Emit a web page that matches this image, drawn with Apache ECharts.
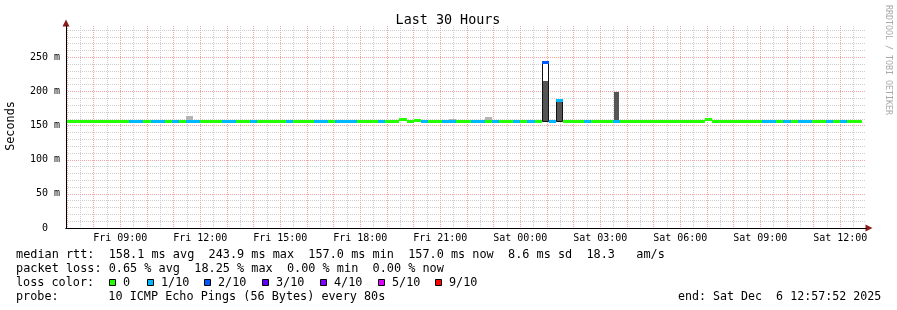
<!DOCTYPE html>
<html><head><meta charset="utf-8">
<script src="https://cdn.jsdelivr.net/npm/echarts@6/dist/echarts.min.js"></script>
<style>html,body{margin:0;padding:0;background:#fff}#c{width:897px;height:310px}</style>
</head><body><div id="c"></div>
<script>
// ---- time axis: minutes since Fri 00:00 ----
const viewStart = 417 + 52 / 60;          // Fri 06:57:52
const viewEnd = viewStart + 1800;         // Sat 12:57:52 (30 hours)
const binStart0 = 416;                    // first 16-minute RRD bin (Fri 06:56)
const binStep = 16;

// x tick labels
const xTickValues = [540, 720, 900, 1080, 1260, 1440, 1620, 1800, 1980, 2160];
const xTickLabels = ['Fri 09:00', 'Fri 12:00', 'Fri 15:00', 'Fri 18:00', 'Fri 21:00',
                     'Sat 00:00', 'Sat 03:00', 'Sat 06:00', 'Sat 09:00', 'Sat 12:00'];
// y tick labels (ms)
const yTickValues = [0, 50, 100, 150, 200, 250];
const yTickLabels = ['0  ', '50 m', '100 m', '150 m', '200 m', '250 m'];

// median rtt per bin (ms)
const medianMs = [
  157,157,157,157,157,157,157,157,157,157,
  157,157,157,157,157,157,157,157,157,157,
  157,157,157,157,157,157,157,157,157,157,
  157,157,157,157,157,157,157,157,157,157,
  157,157,157,157,157,157,157,160,157,158,
  157,157,157,157,157,157,157,157,157,157,
  157,157,157,157,157,157,157,243.9,157,187,
  157,157,157,157,157,157,157,157,157,157,
  157,157,157,157,157,157,157,157,157,157,
  160,157,157,157,157,157,157,157,157,157,
  157,157,157,157,157,157,157,157,157,157,
  157,157
];
// packet loss per bin (%)
const lossPct = [
  0,0,0,0,0,0,0,0,0,1.67,
  0.83,0,1.67,1.67,0,1.67,0,2.5,1.67,0,
  0,0,1.67,0.83,0,0,1.67,0,0,0,
  0,1.67,0,0,0,1.67,0.83,0,1.67,2.5,
  1.67,0,0,0,1.67,0,0,0,0,0,
  1.67,0,0,0.83,1.67,0,0,1.67,1.67,0,
  1.67,0,0,1.67,0,1.67,0,18.25,1.67,2.5,
  0,0,0,1.67,0,0,0,1.67,0,0,
  0,0,0,0,0,0,0,0,0,0,
  0,0,0,0,0,0,0,0,1.67,0.83,
  0,1.67,0,1.67,0.83,0,0,1.67,0,1.67,
  0,0
];
// smoke (ping spread) per bin
const smokeBase = 157;
const lightSmokeStart = [688, 1280, 1360];
const lightSmokeTop = [164, 160, 163];
const darkSmokeStart = [1488, 1520, 1648];
const darkSmokeTop = [215, 186, 200];
const envelopeStart = [1488, 1520];
const envelopeTop = [244, 188];

// loss colour classes
const lossLabels = ['0', '1/10', '2/10', '3/10', '4/10', '5/10', '9/10'];
const lossColors = ['#26ff00', '#00b8ff', '#0059ff', '#5e00ff', '#7e00ff', '#dd00ff', '#ff0000'];
const lossUpper = [0, 10, 20, 30, 40, 50, 100];

// legend texts
const legendRtt = 'median rtt:  158.1 ms avg  243.9 ms max  157.0 ms min  157.0 ms now  8.6 ms sd  18.3   am/s';
const legendLoss = 'packet loss: 0.65 % avg  18.25 % max  0.00 % min  0.00 % now';
const legendColorTitle = 'loss color:';
const legendProbe = 'probe:       10 ICMP Echo Pings (56 Bytes) every 80s';
const legendEnd = 'end: Sat Dec  6 12:57:52 2025';
const titleText = 'Last 30 Hours';

// ---------------------------------------------------------------
const MONO = '"DejaVu Sans Mono", "Liberation Mono", monospace';
function lossColor(p) {
  for (let i = 0; i < lossUpper.length; i++) if (p <= lossUpper[i]) return lossColors[i];
  return lossColors[lossColors.length - 1];
}
const medianData = medianMs.map((m, j) => [binStart0 + j * binStep, binStart0 + (j + 1) * binStep, m, lossPct[j]]);
const smokeData = [];
envelopeStart.forEach((t, i) => smokeData.push([t, t + binStep, smokeBase, envelopeTop[i], 0]));
lightSmokeStart.forEach((t, i) => smokeData.push([t, t + binStep, smokeBase, lightSmokeTop[i], 1]));
darkSmokeStart.forEach((t, i) => smokeData.push([t, t + binStep, smokeBase, darkSmokeTop[i], 2]));

const hourTicks = [], halfTicks = [];
for (let t = Math.ceil(viewStart / 60) * 60; t <= viewEnd; t += 60) hourTicks.push(t);
for (let t = Math.ceil((viewStart - 30) / 60) * 60 + 30; t <= viewEnd; t += 60) halfTicks.push(t);
const yMinor = [];
for (let v = 10; v < 296; v += 10) if (v % 50) yMinor.push(v);

function xSpan(api, t0, t1, v) {
  const a = api.coord([Math.max(t0, viewStart), v]);
  const b = api.coord([Math.min(t1, viewEnd), v]);
  return [Math.round(a[0]), Math.round(b[0]), a[1]];
}

const hidden = { axisLine: { show: false }, axisLabel: { show: false } };
const common = { type: 'value', min: viewStart, max: viewEnd, position: 'bottom' };
const ycommon = { type: 'value', min: 0, max: 296, position: 'left' };

const chart = echarts.init(document.getElementById('c'), null, { renderer: 'canvas' });
chart.setOption({
  animation: false,
  backgroundColor: '#ffffff',
  grid: { left: 66, top: 26, width: 800, height: 202 },
  xAxis: [
    Object.assign({}, common, {
      axisLine: { show: false },
      axisTick: { show: false, customValues: hourTicks },
      splitLine: { show: true, lineStyle: { color: '#f3a3a3', type: [1, 1], width: 1 } },
      axisLabel: { customValues: xTickValues, margin: 5, fontFamily: MONO, fontSize: 10, color: '#000',
        formatter: v => xTickLabels[xTickValues.indexOf(Math.round(v))] || '' },
      z: 1
    }),
    Object.assign({}, common, hidden, {
      axisTick: { show: false, customValues: halfTicks },
      splitLine: { show: true, lineStyle: { color: '#cfcfcf', type: [1, 1], width: 1 } },
      z: 0
    }),
    Object.assign({}, common, {
      axisLine: { show: true, onZero: false, symbol: ['none', 'triangle'], symbolSize: [7, 7], symbolOffset: [0, 3],
        lineStyle: { color: '#8b1c1c', width: 1 } },
      axisTick: { show: false }, axisLabel: { show: false }, splitLine: { show: false }, z: 5
    }),
    Object.assign({}, common, {
      axisLine: { show: true, onZero: false, lineStyle: { color: '#000', width: 1 } },
      axisTick: { show: false }, axisLabel: { show: false }, splitLine: { show: false }, z: 6
    })
  ],
  yAxis: [
    Object.assign({}, ycommon, {
      axisLine: { show: false },
      axisTick: { show: false, customValues: yTickValues },
      splitLine: { show: true, lineStyle: { color: '#f3a3a3', type: [1, 1], width: 1 } },
      axisLabel: { customValues: yTickValues, margin: 6, fontFamily: MONO, fontSize: 10, color: '#000',
        formatter: v => yTickLabels[yTickValues.indexOf(Math.round(v))] || '' },
      z: 1
    }),
    Object.assign({}, ycommon, hidden, {
      axisTick: { show: false, customValues: yMinor },
      splitLine: { show: true, lineStyle: { color: '#cfcfcf', type: [1, 1], width: 1 } },
      z: 0
    }),
    Object.assign({}, ycommon, {
      axisLine: { show: true, onZero: false, symbol: ['none', 'triangle'], symbolSize: [7, 7], symbolOffset: [0, 3],
        lineStyle: { color: '#8b1c1c', width: 1 } },
      axisTick: { show: false }, axisLabel: { show: false }, splitLine: { show: false }, z: 5
    }),
    Object.assign({}, ycommon, {
      axisLine: { show: true, onZero: false, lineStyle: { color: '#000', width: 1 } },
      axisTick: { show: false }, axisLabel: { show: false }, splitLine: { show: false }, z: 6
    })
  ],
  series: [
    {
      type: 'custom', name: 'smoke', xAxisIndex: 0, yAxisIndex: 0, z: 2,
      data: smokeData,
      renderItem: (params, api) => {
        const [x0, x1] = xSpan(api, api.value(0), api.value(1), 0);
        const yb = Math.round(api.coord([api.value(0), api.value(2)])[1]);
        const yt = Math.round(api.coord([api.value(0), api.value(3)])[1]);
        const kind = api.value(4);
        if (kind === 0) {
          return { type: 'rect', shape: { x: x0 + 0.5, y: yt + 0.5, width: x1 - x0 - 1, height: yb - yt },
            style: { fill: '#ffffff', stroke: '#111111', lineWidth: 1 } };
        }
        if (kind === 1) {
          return { type: 'rect', shape: { x: x0, y: yt, width: x1 - x0, height: yb - yt }, style: { fill: '#b4b4b4' } };
        }
        return { type: 'rect', shape: { x: x0 + 1, y: yt, width: x1 - x0 - 2, height: yb - yt }, style: { fill: '#555555' } };
      }
    },
    {
      type: 'custom', name: 'median', xAxisIndex: 0, yAxisIndex: 0, z: 3,
      data: medianData,
      renderItem: (params, api) => {
        const [x0, x1, y] = xSpan(api, api.value(0), api.value(1), api.value(2));
        return { type: 'rect', shape: { x: x0, y: Math.round(y - 1), width: x1 - x0, height: 3 },
          style: { fill: lossColor(api.value(3)) } };
      }
    }
  ],
  graphic: [
    { type: 'text', x: 448, y: 20.5, style: { text: titleText, fontFamily: MONO, fontSize: 13.4, fill: '#000', align: 'center', verticalAlign: 'middle' } },
    { type: 'text', x: 11, y: 126, rotation: Math.PI / 2, style: { text: 'Seconds', fontFamily: MONO, fontSize: 11.8, fill: '#000', align: 'center', verticalAlign: 'middle' } },
    { type: 'text', x: 888, y: 60, rotation: -Math.PI / 2, style: { text: 'RRDTOOL / TOBI OETIKER', fontFamily: MONO, fontSize: 8.3, fill: '#a8a8a8', align: 'center', verticalAlign: 'middle' } },
    { type: 'text', x: 16, y: 254.5, style: { text: legendRtt, fontFamily: MONO, fontSize: 11.85, fill: '#000', verticalAlign: 'middle' } },
    { type: 'text', x: 16, y: 268.5, style: { text: legendLoss, fontFamily: MONO, fontSize: 11.85, fill: '#000', verticalAlign: 'middle' } },
    { type: 'text', x: 16, y: 282.5, style: { text: legendColorTitle, fontFamily: MONO, fontSize: 11.8, fill: '#000', verticalAlign: 'middle' } },
    { type: 'text', x: 16, y: 296.5, style: { text: legendProbe, fontFamily: MONO, fontSize: 11.8, fill: '#000', verticalAlign: 'middle' } },
    { type: 'text', x: 678, y: 296.5, style: { text: legendEnd, fontFamily: MONO, fontSize: 11.65, fill: '#000', verticalAlign: 'middle' } }
  ].concat(lossLabels.map((lab, i) => {
    const sx = [109, 147, 204, 262, 320, 378, 435][i];
    return { type: 'group', children: [
      { type: 'rect', shape: { x: sx + 0.5, y: 279.5, width: 6, height: 6 }, style: { fill: lossColors[i], stroke: '#000', lineWidth: 1 } },
      { type: 'text', x: sx + 14, y: 282.5, style: { text: lab, fontFamily: MONO, fontSize: 11.8, fill: '#000', verticalAlign: 'middle' } }
    ] };
  }))
});
</script>
</body></html>
